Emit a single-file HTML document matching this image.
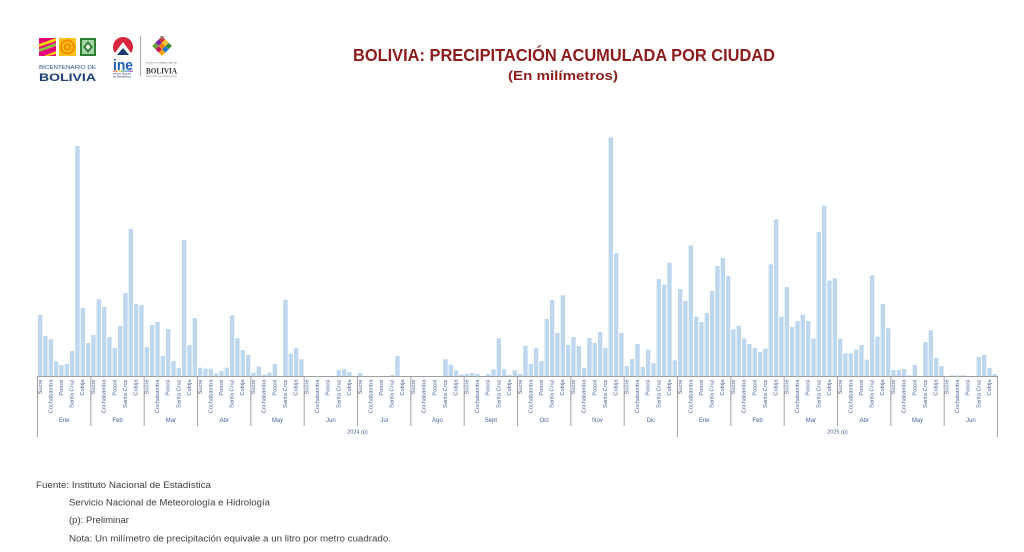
<!DOCTYPE html>
<html>
<head>
<meta charset="utf-8">
<style>
html,body{margin:0;padding:0;background:#fff;}
svg{display:block;}
.lb text{font-family:"Liberation Sans",Arial,sans-serif;fill:#4a6496;}
.lb .t{text-anchor:end;font-size:5.7px;}
.lb .mo{text-anchor:middle;font-size:6px;}
.yr{font-family:"Liberation Sans",Arial,sans-serif;fill:#4a6496;font-size:5.5px;text-anchor:middle;}
.bars rect{fill:#bdd7ee;}
.ft{font-family:"Liberation Sans",Arial,sans-serif;fill:#404040;font-size:9px;}
</style>
</head>
<body>
<svg width="1024" height="552" viewBox="0 0 1024 552" xmlns="http://www.w3.org/2000/svg">
<rect width="1024" height="552" fill="#fff"/>

<!-- Logos -->
<g>
  <rect x="39" y="38" width="17" height="18" fill="#e6007e"/>
  <polygon points="39,44 56,38 56,41 39,47" fill="#f5d400"/>
  <polygon points="39,49 56,43 56,46 39,52" fill="#8dc63f"/>
  <polygon points="44,56 56,51 56,54 48,56" fill="#f5d400"/>
  <rect x="59" y="38" width="17" height="18" fill="#f9c21a"/>
  <circle cx="67.5" cy="47" r="7.5" fill="#f28c00"/>
  <circle cx="67.5" cy="47" r="5.5" fill="#f9c21a"/>
  <circle cx="67.5" cy="47" r="3.7" fill="#f28c00"/>
  <circle cx="67.5" cy="47" r="1.8" fill="#f9c21a"/>
  <rect x="80" y="38" width="16" height="18" fill="#2e7d32"/>
  <rect x="82" y="40" width="12" height="14" fill="#a5d6a7"/>
  <polygon points="88,41 93,47 88,53 83,47" fill="#2e7d32"/>
  <polygon points="88,44 90.5,47 88,50 85.5,47" fill="#e8f5e9"/>
  <text x="39" y="69" font-family="Liberation Sans,Arial,sans-serif" font-size="5.6" fill="#2a4f8a" textLength="57" lengthAdjust="spacingAndGlyphs">BICENTENARIO DE</text>
  <text x="39" y="81" font-family="Liberation Sans,Arial,sans-serif" font-size="11" font-weight="bold" fill="#1c3f75" textLength="57" lengthAdjust="spacingAndGlyphs">BOLIVIA</text>

  <circle cx="123" cy="47" r="10" fill="#d7263d"/>
  <polygon points="123,42 112,57 134,57" fill="#fff"/>
  <polygon points="123,48 117,55 129,55" fill="#1b3a6b"/>
  <rect x="110" y="55" width="26" height="4" fill="#fff"/>
  <text x="113" y="70" font-family="Liberation Sans,Arial,sans-serif" font-size="15" font-weight="bold" fill="#1b5fb5" textLength="20" lengthAdjust="spacingAndGlyphs">ine</text>
  <rect x="113" y="70.6" width="4" height="1" fill="#e53935"/>
  <rect x="117" y="70.6" width="4" height="1" fill="#fbc02d"/>
  <rect x="121" y="70.6" width="4" height="1" fill="#43a047"/>
  <rect x="125" y="70.6" width="4" height="1" fill="#1e88e5"/>
  <rect x="129" y="70.6" width="4" height="1" fill="#8e24aa"/>
  <text x="113" y="74.5" font-family="Liberation Sans,Arial,sans-serif" font-size="2.6" fill="#1b3a6b" textLength="18" lengthAdjust="spacingAndGlyphs">Instituto Nacional</text>
  <text x="113" y="77.5" font-family="Liberation Sans,Arial,sans-serif" font-size="2.6" fill="#1b3a6b" textLength="18" lengthAdjust="spacingAndGlyphs">de Estadística</text>
  <rect x="140" y="36" width="1" height="40" fill="#aaa"/>

  <g transform="translate(162,46) rotate(45)">
    <rect x="-7" y="-7" width="4.6" height="4.6" fill="#d32f2f"/>
    <rect x="-2.3" y="-7" width="4.6" height="4.6" fill="#fbc02d"/>
    <rect x="2.4" y="-7" width="4.6" height="4.6" fill="#388e3c"/>
    <rect x="-7" y="-2.3" width="4.6" height="4.6" fill="#7b1fa2"/>
    <rect x="-2.3" y="-2.3" width="4.6" height="4.6" fill="#f57c00"/>
    <rect x="2.4" y="-2.3" width="4.6" height="4.6" fill="#1976d2"/>
    <rect x="-7" y="2.4" width="4.6" height="4.6" fill="#689f38"/>
    <rect x="-2.3" y="2.4" width="4.6" height="4.6" fill="#c2185b"/>
    <rect x="2.4" y="2.4" width="4.6" height="4.6" fill="#ffa000"/>
  </g>
  <rect x="160.5" y="36" width="3" height="3" fill="#8d6e63"/>
  <text x="161.5" y="63.5" font-family="Liberation Sans,Arial,sans-serif" font-size="2.2" fill="#666" text-anchor="middle">ESTADO PLURINACIONAL DE</text>
  <text x="146" y="73.5" font-family="Liberation Serif,serif" font-size="8" font-weight="bold" fill="#333" textLength="31" lengthAdjust="spacingAndGlyphs">BOLIVIA</text>
  <text x="161.5" y="77" font-family="Liberation Sans,Arial,sans-serif" font-size="2" fill="#777" text-anchor="middle">MINISTERIO DE PLANIFICACIÓN</text>
</g>

<!-- Title -->
<text x="353" y="61" font-family="Liberation Sans,Arial,sans-serif" font-size="17.5" font-weight="bold" fill="#8c1c1c" textLength="422" lengthAdjust="spacingAndGlyphs">BOLIVIA: PRECIPITACIÓN ACUMULADA POR CIUDAD</text>
<text x="508" y="80" font-family="Liberation Sans,Arial,sans-serif" font-size="13" font-weight="bold" fill="#8c1c1c" textLength="110" lengthAdjust="spacingAndGlyphs">(En milímetros)</text>

<!-- Bars -->
<g class="bars">
<g transform="translate(37.5,376) scale(1,-1)">
<rect x="0.5" width="4.3" height="61"/><rect x="5.83" width="4.3" height="40"/><rect x="11.17" width="4.3" height="36.7"/><rect x="16.5" width="4.3" height="14.7"/><rect x="21.83" width="4.3" height="11"/><rect x="27.17" width="4.3" height="12"/><rect x="32.5" width="4.3" height="25"/><rect x="37.83" width="4.3" height="230"/><rect x="43.17" width="4.3" height="68"/><rect x="48.5" width="4.3" height="33"/>
</g>
<g transform="translate(90.83,376) scale(1,-1)">
<rect x="0.5" width="4.3" height="41"/><rect x="5.83" width="4.3" height="77"/><rect x="11.17" width="4.3" height="69"/><rect x="16.5" width="4.3" height="39"/><rect x="21.83" width="4.3" height="28"/><rect x="27.17" width="4.3" height="50"/><rect x="32.5" width="4.3" height="83"/><rect x="37.83" width="4.3" height="147"/><rect x="43.17" width="4.3" height="72"/><rect x="48.5" width="4.3" height="71"/>
</g>
<g transform="translate(144.17,376) scale(1,-1)">
<rect x="0.5" width="4.3" height="29"/><rect x="5.83" width="4.3" height="51"/><rect x="11.17" width="4.3" height="54"/><rect x="16.5" width="4.3" height="20"/><rect x="21.83" width="4.3" height="47"/><rect x="27.17" width="4.3" height="15"/><rect x="32.5" width="4.3" height="8"/><rect x="37.83" width="4.3" height="136"/><rect x="43.17" width="4.3" height="31"/><rect x="48.5" width="4.3" height="58"/>
</g>
<g transform="translate(197.5,376) scale(1,-1)">
<rect x="0.5" width="4.3" height="8.3"/><rect x="5.83" width="4.3" height="7.3"/><rect x="11.17" width="4.3" height="7.3"/><rect x="16.5" width="4.3" height="2.7"/><rect x="21.83" width="4.3" height="5"/><rect x="27.17" width="4.3" height="8.3"/><rect x="32.5" width="4.3" height="60.7"/><rect x="37.83" width="4.3" height="37.7"/><rect x="43.17" width="4.3" height="26"/><rect x="48.5" width="4.3" height="21"/>
</g>
<g transform="translate(250.83,376) scale(1,-1)">
<rect x="0.5" width="4.3" height="3.3"/><rect x="5.83" width="4.3" height="9.3"/><rect x="11.17" width="4.3" height="1.3"/><rect x="16.5" width="4.3" height="3.3"/><rect x="21.83" width="4.3" height="12"/><rect x="32.5" width="4.3" height="76.3"/><rect x="37.83" width="4.3" height="22.3"/><rect x="43.17" width="4.3" height="27.7"/><rect x="48.5" width="4.3" height="16.7"/>
</g>
<g transform="translate(304.17,376) scale(1,-1)">
<rect x="32.5" width="4.3" height="6"/><rect x="37.83" width="4.3" height="6.7"/><rect x="43.17" width="4.3" height="4"/>
</g>
<g transform="translate(357.5,376) scale(1,-1)">
<rect x="0.5" width="4.3" height="3"/><rect x="32.5" width="4.3" height="1"/><rect x="37.83" width="4.3" height="20"/>
</g>
<g transform="translate(410.83,376) scale(1,-1)">
<rect x="32.5" width="4.3" height="16.7"/><rect x="37.83" width="4.3" height="11.3"/><rect x="43.17" width="4.3" height="5.7"/><rect x="48.5" width="4.3" height="1.3"/>
</g>
<g transform="translate(464.17,376) scale(1,-1)">
<rect x="0.5" width="4.3" height="2"/><rect x="5.83" width="4.3" height="3"/><rect x="11.17" width="4.3" height="2"/><rect x="21.83" width="4.3" height="2"/><rect x="27.17" width="4.3" height="6.7"/><rect x="32.5" width="4.3" height="37.7"/><rect x="37.83" width="4.3" height="6.7"/><rect x="43.17" width="4.3" height="1"/><rect x="48.5" width="4.3" height="5.7"/>
</g>
<g transform="translate(517.5,376) scale(1,-1)">
<rect x="0.5" width="4.3" height="2"/><rect x="5.83" width="4.3" height="30.3"/><rect x="11.17" width="4.3" height="12"/><rect x="16.5" width="4.3" height="27.7"/><rect x="21.83" width="4.3" height="15"/><rect x="27.17" width="4.3" height="57"/><rect x="32.5" width="4.3" height="76"/><rect x="37.83" width="4.3" height="43"/><rect x="43.17" width="4.3" height="80.7"/><rect x="48.5" width="4.3" height="31"/>
</g>
<g transform="translate(570.83,376) scale(1,-1)">
<rect x="0.5" width="4.3" height="39"/><rect x="5.83" width="4.3" height="30"/><rect x="11.17" width="4.3" height="8"/><rect x="16.5" width="4.3" height="38"/><rect x="21.83" width="4.3" height="33"/><rect x="27.17" width="4.3" height="44"/><rect x="32.5" width="4.3" height="28"/><rect x="37.83" width="4.3" height="238.7"/><rect x="43.17" width="4.3" height="122.7"/><rect x="48.5" width="4.3" height="43"/>
</g>
<g transform="translate(624.17,376) scale(1,-1)">
<rect x="0.5" width="4.3" height="10"/><rect x="5.83" width="4.3" height="17"/><rect x="11.17" width="4.3" height="32"/><rect x="16.5" width="4.3" height="9"/><rect x="21.83" width="4.3" height="26.3"/><rect x="27.17" width="4.3" height="12.7"/><rect x="32.5" width="4.3" height="97"/><rect x="37.83" width="4.3" height="91.3"/><rect x="43.17" width="4.3" height="113.3"/><rect x="48.5" width="4.3" height="15.7"/>
</g>
<g transform="translate(677.5,376) scale(1,-1)">
<rect x="0.5" width="4.3" height="87"/><rect x="5.83" width="4.3" height="75"/><rect x="11.17" width="4.3" height="130.7"/><rect x="16.5" width="4.3" height="59.3"/><rect x="21.83" width="4.3" height="54"/><rect x="27.17" width="4.3" height="63"/><rect x="32.5" width="4.3" height="85"/><rect x="37.83" width="4.3" height="110"/><rect x="43.17" width="4.3" height="118"/><rect x="48.5" width="4.3" height="100"/>
</g>
<g transform="translate(730.83,376) scale(1,-1)">
<rect x="0.5" width="4.3" height="46.7"/><rect x="5.83" width="4.3" height="50.3"/><rect x="11.17" width="4.3" height="37.7"/><rect x="16.5" width="4.3" height="32"/><rect x="21.83" width="4.3" height="28"/><rect x="27.17" width="4.3" height="24"/><rect x="32.5" width="4.3" height="27.3"/><rect x="37.83" width="4.3" height="111.7"/><rect x="43.17" width="4.3" height="156.7"/><rect x="48.5" width="4.3" height="59.3"/>
</g>
<g transform="translate(784.17,376) scale(1,-1)">
<rect x="0.5" width="4.3" height="89"/><rect x="5.83" width="4.3" height="49.3"/><rect x="11.17" width="4.3" height="55"/><rect x="16.5" width="4.3" height="61.3"/><rect x="21.83" width="4.3" height="55"/><rect x="27.17" width="4.3" height="37.3"/><rect x="32.5" width="4.3" height="144"/><rect x="37.83" width="4.3" height="170.3"/><rect x="43.17" width="4.3" height="95.3"/><rect x="48.5" width="4.3" height="97.7"/>
</g>
<g transform="translate(837.5,376) scale(1,-1)">
<rect x="0.5" width="4.3" height="37.3"/><rect x="5.83" width="4.3" height="22.7"/><rect x="11.17" width="4.3" height="22.7"/><rect x="16.5" width="4.3" height="26.3"/><rect x="21.83" width="4.3" height="31"/><rect x="27.17" width="4.3" height="16.3"/><rect x="32.5" width="4.3" height="100.7"/><rect x="37.83" width="4.3" height="39.3"/><rect x="43.17" width="4.3" height="72"/><rect x="48.5" width="4.3" height="47.7"/>
</g>
<g transform="translate(890.83,376) scale(1,-1)">
<rect x="0.5" width="4.3" height="6"/><rect x="5.83" width="4.3" height="6"/><rect x="11.17" width="4.3" height="7"/><rect x="16.5" width="4.3" height="0.7"/><rect x="21.83" width="4.3" height="11"/><rect x="32.5" width="4.3" height="34"/><rect x="37.83" width="4.3" height="45.7"/><rect x="43.17" width="4.3" height="18"/><rect x="48.5" width="4.3" height="10"/>
</g>
<g transform="translate(944.17,376) scale(1,-1)">
<rect x="5.83" width="4.3" height="0.7"/><rect x="11.17" width="4.3" height="0.7"/><rect x="16.5" width="4.3" height="0.7"/><rect x="32.5" width="4.3" height="19"/><rect x="37.83" width="4.3" height="21"/><rect x="43.17" width="4.3" height="8"/><rect x="48.5" width="4.3" height="2"/>
</g>
</g>

<!-- Axis lines -->
<g stroke="#a0a0a0" stroke-width="1" fill="none">
<line x1="37.5" y1="376.5" x2="997.5" y2="376.5"/>
<line x1="37.5" y1="376" x2="37.5" y2="437"/>
<line x1="90.83" y1="376" x2="90.83" y2="426"/>
<line x1="144.17" y1="376" x2="144.17" y2="426"/>
<line x1="197.5" y1="376" x2="197.5" y2="426"/>
<line x1="250.83" y1="376" x2="250.83" y2="426"/>
<line x1="304.17" y1="376" x2="304.17" y2="426"/>
<line x1="357.5" y1="376" x2="357.5" y2="426"/>
<line x1="410.83" y1="376" x2="410.83" y2="426"/>
<line x1="464.17" y1="376" x2="464.17" y2="426"/>
<line x1="517.5" y1="376" x2="517.5" y2="426"/>
<line x1="570.83" y1="376" x2="570.83" y2="426"/>
<line x1="624.17" y1="376" x2="624.17" y2="426"/>
<line x1="677.5" y1="376" x2="677.5" y2="437"/>
<line x1="730.83" y1="376" x2="730.83" y2="426"/>
<line x1="784.17" y1="376" x2="784.17" y2="426"/>
<line x1="837.5" y1="376" x2="837.5" y2="426"/>
<line x1="890.83" y1="376" x2="890.83" y2="426"/>
<line x1="944.17" y1="376" x2="944.17" y2="426"/>
<line x1="997.5" y1="376" x2="997.5" y2="437"/>
</g>

<!-- Category labels -->
<g class="lb" transform="translate(37.5,0)"><text class="t" transform="translate(4.3,379.5) rotate(-90)">Sucre</text><text class="t" transform="translate(14.9,379.5) rotate(-90)">Cochabamba</text><text class="t" transform="translate(25.5,379.5) rotate(-90)">Potosí</text><text class="t" transform="translate(36.1,379.5) rotate(-90)">Santa Cruz</text><text class="t" transform="translate(46.7,379.5) rotate(-90)">Cobija</text><text class="mo" x="26.67" y="422">Ene</text></g>
<g class="lb" transform="translate(90.83,0)"><text class="t" transform="translate(4.3,379.5) rotate(-90)">Sucre</text><text class="t" transform="translate(14.9,379.5) rotate(-90)">Cochabamba</text><text class="t" transform="translate(25.5,379.5) rotate(-90)">Potosí</text><text class="t" transform="translate(36.1,379.5) rotate(-90)">Santa Cruz</text><text class="t" transform="translate(46.7,379.5) rotate(-90)">Cobija</text><text class="mo" x="26.67" y="422">Feb</text></g>
<g class="lb" transform="translate(144.17,0)"><text class="t" transform="translate(4.3,379.5) rotate(-90)">Sucre</text><text class="t" transform="translate(14.9,379.5) rotate(-90)">Cochabamba</text><text class="t" transform="translate(25.5,379.5) rotate(-90)">Potosí</text><text class="t" transform="translate(36.1,379.5) rotate(-90)">Santa Cruz</text><text class="t" transform="translate(46.7,379.5) rotate(-90)">Cobija</text><text class="mo" x="26.67" y="422">Mar</text></g>
<g class="lb" transform="translate(197.5,0)"><text class="t" transform="translate(4.3,379.5) rotate(-90)">Sucre</text><text class="t" transform="translate(14.9,379.5) rotate(-90)">Cochabamba</text><text class="t" transform="translate(25.5,379.5) rotate(-90)">Potosí</text><text class="t" transform="translate(36.1,379.5) rotate(-90)">Santa Cruz</text><text class="t" transform="translate(46.7,379.5) rotate(-90)">Cobija</text><text class="mo" x="26.67" y="422">Abr</text></g>
<g class="lb" transform="translate(250.83,0)"><text class="t" transform="translate(4.3,379.5) rotate(-90)">Sucre</text><text class="t" transform="translate(14.9,379.5) rotate(-90)">Cochabamba</text><text class="t" transform="translate(25.5,379.5) rotate(-90)">Potosí</text><text class="t" transform="translate(36.1,379.5) rotate(-90)">Santa Cruz</text><text class="t" transform="translate(46.7,379.5) rotate(-90)">Cobija</text><text class="mo" x="26.67" y="422">May</text></g>
<g class="lb" transform="translate(304.17,0)"><text class="t" transform="translate(4.3,379.5) rotate(-90)">Sucre</text><text class="t" transform="translate(14.9,379.5) rotate(-90)">Cochabamba</text><text class="t" transform="translate(25.5,379.5) rotate(-90)">Potosí</text><text class="t" transform="translate(36.1,379.5) rotate(-90)">Santa Cruz</text><text class="t" transform="translate(46.7,379.5) rotate(-90)">Cobija</text><text class="mo" x="26.67" y="422">Jun</text></g>
<g class="lb" transform="translate(357.5,0)"><text class="t" transform="translate(4.3,379.5) rotate(-90)">Sucre</text><text class="t" transform="translate(14.9,379.5) rotate(-90)">Cochabamba</text><text class="t" transform="translate(25.5,379.5) rotate(-90)">Potosí</text><text class="t" transform="translate(36.1,379.5) rotate(-90)">Santa Cruz</text><text class="t" transform="translate(46.7,379.5) rotate(-90)">Cobija</text><text class="mo" x="26.67" y="422">Jul</text></g>
<g class="lb" transform="translate(410.83,0)"><text class="t" transform="translate(4.3,379.5) rotate(-90)">Sucre</text><text class="t" transform="translate(14.9,379.5) rotate(-90)">Cochabamba</text><text class="t" transform="translate(25.5,379.5) rotate(-90)">Potosí</text><text class="t" transform="translate(36.1,379.5) rotate(-90)">Santa Cruz</text><text class="t" transform="translate(46.7,379.5) rotate(-90)">Cobija</text><text class="mo" x="26.67" y="422">Ago</text></g>
<g class="lb" transform="translate(464.17,0)"><text class="t" transform="translate(4.3,379.5) rotate(-90)">Sucre</text><text class="t" transform="translate(14.9,379.5) rotate(-90)">Cochabamba</text><text class="t" transform="translate(25.5,379.5) rotate(-90)">Potosí</text><text class="t" transform="translate(36.1,379.5) rotate(-90)">Santa Cruz</text><text class="t" transform="translate(46.7,379.5) rotate(-90)">Cobija</text><text class="mo" x="26.67" y="422">Sept</text></g>
<g class="lb" transform="translate(517.5,0)"><text class="t" transform="translate(4.3,379.5) rotate(-90)">Sucre</text><text class="t" transform="translate(14.9,379.5) rotate(-90)">Cochabamba</text><text class="t" transform="translate(25.5,379.5) rotate(-90)">Potosí</text><text class="t" transform="translate(36.1,379.5) rotate(-90)">Santa Cruz</text><text class="t" transform="translate(46.7,379.5) rotate(-90)">Cobija</text><text class="mo" x="26.67" y="422">Oct</text></g>
<g class="lb" transform="translate(570.83,0)"><text class="t" transform="translate(4.3,379.5) rotate(-90)">Sucre</text><text class="t" transform="translate(14.9,379.5) rotate(-90)">Cochabamba</text><text class="t" transform="translate(25.5,379.5) rotate(-90)">Potosí</text><text class="t" transform="translate(36.1,379.5) rotate(-90)">Santa Cruz</text><text class="t" transform="translate(46.7,379.5) rotate(-90)">Cobija</text><text class="mo" x="26.67" y="422">Nov</text></g>
<g class="lb" transform="translate(624.17,0)"><text class="t" transform="translate(4.3,379.5) rotate(-90)">Sucre</text><text class="t" transform="translate(14.9,379.5) rotate(-90)">Cochabamba</text><text class="t" transform="translate(25.5,379.5) rotate(-90)">Potosí</text><text class="t" transform="translate(36.1,379.5) rotate(-90)">Santa Cruz</text><text class="t" transform="translate(46.7,379.5) rotate(-90)">Cobija</text><text class="mo" x="26.67" y="422">Dic</text></g>
<g class="lb" transform="translate(677.5,0)"><text class="t" transform="translate(4.3,379.5) rotate(-90)">Sucre</text><text class="t" transform="translate(14.9,379.5) rotate(-90)">Cochabamba</text><text class="t" transform="translate(25.5,379.5) rotate(-90)">Potosí</text><text class="t" transform="translate(36.1,379.5) rotate(-90)">Santa Cruz</text><text class="t" transform="translate(46.7,379.5) rotate(-90)">Cobija</text><text class="mo" x="26.67" y="422">Ene</text></g>
<g class="lb" transform="translate(730.83,0)"><text class="t" transform="translate(4.3,379.5) rotate(-90)">Sucre</text><text class="t" transform="translate(14.9,379.5) rotate(-90)">Cochabamba</text><text class="t" transform="translate(25.5,379.5) rotate(-90)">Potosí</text><text class="t" transform="translate(36.1,379.5) rotate(-90)">Santa Cruz</text><text class="t" transform="translate(46.7,379.5) rotate(-90)">Cobija</text><text class="mo" x="26.67" y="422">Feb</text></g>
<g class="lb" transform="translate(784.17,0)"><text class="t" transform="translate(4.3,379.5) rotate(-90)">Sucre</text><text class="t" transform="translate(14.9,379.5) rotate(-90)">Cochabamba</text><text class="t" transform="translate(25.5,379.5) rotate(-90)">Potosí</text><text class="t" transform="translate(36.1,379.5) rotate(-90)">Santa Cruz</text><text class="t" transform="translate(46.7,379.5) rotate(-90)">Cobija</text><text class="mo" x="26.67" y="422">Mar</text></g>
<g class="lb" transform="translate(837.5,0)"><text class="t" transform="translate(4.3,379.5) rotate(-90)">Sucre</text><text class="t" transform="translate(14.9,379.5) rotate(-90)">Cochabamba</text><text class="t" transform="translate(25.5,379.5) rotate(-90)">Potosí</text><text class="t" transform="translate(36.1,379.5) rotate(-90)">Santa Cruz</text><text class="t" transform="translate(46.7,379.5) rotate(-90)">Cobija</text><text class="mo" x="26.67" y="422">Abr</text></g>
<g class="lb" transform="translate(890.83,0)"><text class="t" transform="translate(4.3,379.5) rotate(-90)">Sucre</text><text class="t" transform="translate(14.9,379.5) rotate(-90)">Cochabamba</text><text class="t" transform="translate(25.5,379.5) rotate(-90)">Potosí</text><text class="t" transform="translate(36.1,379.5) rotate(-90)">Santa Cruz</text><text class="t" transform="translate(46.7,379.5) rotate(-90)">Cobija</text><text class="mo" x="26.67" y="422">May</text></g>
<g class="lb" transform="translate(944.17,0)"><text class="t" transform="translate(4.3,379.5) rotate(-90)">Sucre</text><text class="t" transform="translate(14.9,379.5) rotate(-90)">Cochabamba</text><text class="t" transform="translate(25.5,379.5) rotate(-90)">Potosí</text><text class="t" transform="translate(36.1,379.5) rotate(-90)">Santa Cruz</text><text class="t" transform="translate(46.7,379.5) rotate(-90)">Cobija</text><text class="mo" x="26.67" y="422">Jun</text></g>

<text class="yr" x="357.5" y="433.5">2024 (p)</text>
<text class="yr" x="837.5" y="433.5">2025 (p)</text>

<!-- Footer -->
<text class="ft" x="36" y="488" textLength="175" lengthAdjust="spacingAndGlyphs">Fuente: Instituto Nacional de Estadística</text>
<text class="ft" x="69" y="505.5" textLength="201" lengthAdjust="spacingAndGlyphs">Servicio Nacional de Meteorología e Hidrología</text>
<text class="ft" x="69" y="523" textLength="60" lengthAdjust="spacingAndGlyphs">(p): Preliminar</text>
<text class="ft" x="69" y="541.5" textLength="322" lengthAdjust="spacingAndGlyphs">Nota: Un milímetro de precipitación equivale a un litro por metro cuadrado.</text>
</svg>
</body>
</html>
